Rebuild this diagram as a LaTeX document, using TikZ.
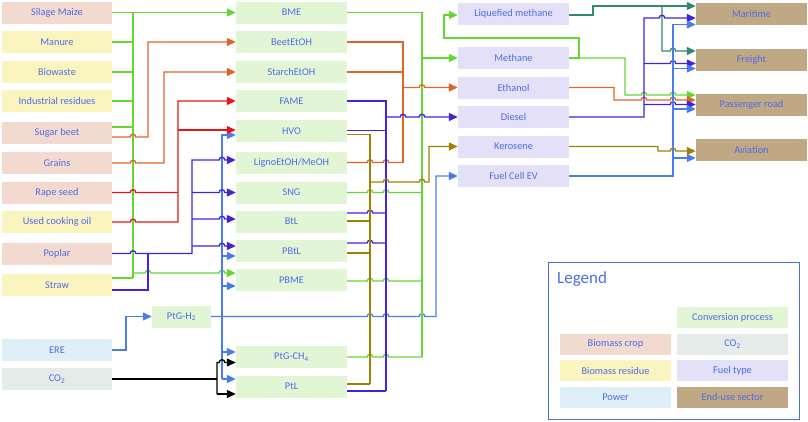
\documentclass[tikz,border=0pt]{standalone}
\usepackage{fontspec}
\setmainfont{Carlito}
\usetikzlibrary{arrows.meta,calc}
\definecolor{txt}{RGB}{78,108,230}
\definecolor{cropc}{RGB}{243,218,208}
\definecolor{resc}{RGB}{250,244,190}
\definecolor{powc}{RGB}{222,239,248}
\definecolor{co2c}{RGB}{228,235,233}
\definecolor{convc}{RGB}{226,246,214}
\definecolor{fuelc}{RGB}{227,224,247}
\definecolor{endc}{RGB}{192,168,132}
\definecolor{cg}{RGB}{102,214,51}
\definecolor{cor}{RGB}{224,100,40}
\definecolor{cr}{RGB}{235,20,20}
\definecolor{cp}{RGB}{68,34,221}
\definecolor{cb}{RGB}{74,124,240}
\definecolor{col}{RGB}{160,128,0}
\definecolor{ct}{RGB}{46,139,112}
\definecolor{legc}{RGB}{74,111,224}
\newcommand\hx[2]{-- (#1-2.8,#2) arc[start angle=180,end angle=0,radius=2.8pt]}
\begin{document}
\begin{tikzpicture}[x=1pt,y=-1pt,
  box/.style={minimum width=111pt,minimum height=22pt,inner sep=0pt,text=txt,font=\fontsize{10.3}{12}\selectfont},
  crop/.style={box,fill=cropc},
  res/.style={box,fill=resc},
  pow/.style={box,fill=powc},
  cotwo/.style={box,fill=co2c},
  conv/.style={box,fill=convc},
  fuel/.style={box,fill=fuelc},
  enduse/.style={box,fill=endc},
  ln/.style={line width=1.3pt},
  ar/.style={-{Triangle[length=9pt,width=8pt]}}]
\useasboundingbox (0,0) rectangle (808,421);
% left column
\node[crop,minimum width=110pt] (sm) at (57,12.5) {Silage Maize};
\node[res,minimum width=110pt] (man) at (57,42) {Manure};
\node[res,minimum width=110pt] (bio) at (57,72) {Biowaste};
\node[res,minimum width=110pt] (ind) at (57,101) {Industrial residues};
\node[crop,minimum width=110pt] (sb) at (57,133) {Sugar beet};
\node[crop,minimum width=110pt] (gr) at (57,163) {Grains};
\node[crop,minimum width=110pt] (rs) at (57,192.5) {Rape seed};
\node[res,minimum width=110pt] (uco) at (57,222) {Used cooking oil};
\node[crop,minimum width=110pt] (pop) at (57,253.5) {Poplar};
\node[res,minimum width=110pt] (str) at (57,285) {Straw};
\node[pow,minimum width=110pt] (ere) at (57,350) {ERE};
\node[cotwo,minimum width=110pt] (co2n) at (57,379) {CO\textsubscript{2}};
% middle column
\node[conv] (bme) at (291.5,12.5) {BME};
\node[conv] (beet) at (291.5,42) {BeetEtOH};
\node[conv] (starch) at (291.5,72) {StarchEtOH};
\node[conv] (fame) at (291.5,101) {FAME};
\node[conv] (hvo) at (291.5,131) {HVO};
\node[conv] (ligno) at (291.5,162.5) {LignoEtOH/MeOH};
\node[conv] (sng) at (291.5,192.5) {SNG};
\node[conv] (btl) at (291.5,221.5) {BtL};
\node[conv] (pbtl) at (291.5,251) {PBtL};
\node[conv] (pbme) at (291.5,280) {PBME};
\node[conv] (ptgch4) at (291.5,357) {PtG-CH\textsubscript{4}};
\node[conv] (ptl) at (291.5,386.5) {PtL};
\node[conv,minimum width=59pt] (ptgh2) at (181.5,316.5) {PtG-H\textsubscript{2}};
% fuel column
\node[fuel] (lm) at (513.5,13.5) {Liquefied methane};
\node[fuel] (meth) at (513.5,58) {Methane};
\node[fuel] (eth) at (513.5,87.5) {Ethanol};
\node[fuel] (dies) at (513.5,117) {Diesel};
\node[fuel] (ker) at (513.5,146.5) {Kerosene};
\node[fuel] (fcev) at (513.5,176) {Fuel Cell EV};
% end-use column
\node[enduse] (mar) at (751.5,14) {Maritime};
\node[enduse] (fre) at (751.5,60) {Freight};
\node[enduse] (pas) at (751.5,105) {Passenger road};
\node[enduse] (avi) at (751.5,150) {Aviation};
% legend
\draw[legc,line width=1pt] (548,262) rectangle (799,419);
\node[anchor=west,text=legc,font=\fontsize{17}{19}\selectfont,inner sep=0pt] (legt) at (557,279) {Legend};
\node[conv,minimum height=21pt] (l1) at (732.5,317.5) {Conversion process};
\node[crop,minimum height=21pt] (l2) at (615.5,344) {Biomass crop};
\node[cotwo,minimum height=21pt] (l3) at (732.5,344) {CO\textsubscript{2}};
\node[res,minimum height=21pt] (l4) at (615.5,370.5) {Biomass residue};
\node[fuel,minimum height=21pt] (l5) at (732.5,370.5) {Fuel type};
\node[pow,minimum height=21pt] (l6) at (615.5,397) {Power};
\node[enduse,minimum height=21pt] (l7) at (732.5,397) {End-use sector};
% ---- green left
\draw[ln,cg,ar] (sm.east) -- (bme.west);
\draw[ln,cg] (133,12.5) -- (133,278);
\draw[ln,cg] (man.east) -- (133,42);
\draw[ln,cg] (bio.east) -- (133,72);
\draw[ln,cg] (ind.east) -- (133,101);
\draw[ln,cg] (sb.east |- 0,127) -- (133,127);
\draw[ln,cg] (str.east |- 0,278) -- (133,278);
\draw[ln,cg,ar] (133,273) \hx{148}{273} \hx{222}{273} -- (pbme.west |- 0,273);
% ---- orange left
\draw[ln,cor,ar] (sb.east |- 0,137) \hx{133}{137} -- (148,137) -- (148,42) -- (beet.west);
\draw[ln,cor,ar] (gr.east) \hx{133}{163} -- (164,163) -- (164,72) -- (starch.west);
% ---- blue left
\draw[ln,cb,ar] (ere.east) -- (126,350) -- (126,316.5) -- (ptgh2.west);
\draw[ln,cb,ar] (ptgh2.east) \hx{370}{316.5} \hx{386}{316.5} \hx{422}{316.5} -- (436,316.5) -- (436,176) -- (fcev.west);
\draw[ln,cb,ar] (222,379) -- (222,135) -- (hvo.west |- 0,135);
\draw[ln,cb,ar] (222,256) -- (pbtl.west |- 0,256);
\draw[ln,cb,ar] (222,286) -- (pbme.west |- 0,286);
\draw[ln,cb,ar] (222,352) -- (ptgch4.west |- 0,352);
\draw[ln,cb,ar] (222,379) -- (ptl.west |- 0,379);
% ---- red
\draw[ln,cr] (rs.east) \hx{133}{192.5} -- (178,192.5);
\draw[ln,cr,ar] (uco.east) \hx{133}{222} -- (178,222) -- (178,101) -- (fame.west);
\draw[ln,cr,ar] (178,130) -- (hvo.west |- 0,130);
% ---- purple left
\draw[ln,cp,ar] (pop.east) \hx{133}{253.5} -- (192,253.5) -- (192,160) \hx{222}{160} -- (ligno.west |- 0,160);
\draw[ln,cp,ar] (192,192.5) \hx{222}{192.5} -- (sng.west);
\draw[ln,cp,ar] (192,219) \hx{222}{219} -- (btl.west |- 0,219);
\draw[ln,cp,ar] (192,246) \hx{222}{246} -- (pbtl.west |- 0,246);
\draw[ln,cp] (str.east |- 0,290) -- (148,290) -- (148,253.5);
% ---- black
\draw[ln,black] (co2n.east) -- (217,379);
\draw[ln,black,ar] (217,394) -- (217,362.5) \hx{222}{362.5} -- (ptgch4.west |- 0,362.5);
\draw[ln,black,ar] (217,394) -- (ptl.west |- 0,394);
% ---- middle green
\draw[ln,cg] (bme.east) -- (422,12.5) -- (422,357);
\draw[ln,cg] (sng.east) \hx{370}{192.5} \hx{386}{192.5} -- (422,192.5);
\draw[ln,cg] (pbme.east |- 0,281) \hx{370}{281} \hx{386}{281} -- (422,281);
\draw[ln,cg] (ptgch4.east) \hx{370}{357} \hx{386}{357} -- (422,357);
\draw[ln,cg,ar] (422,58) -- (meth.west);
% ---- middle orange
\draw[ln,cor] (beet.east) -- (403,42) -- (403,162.5);
\draw[ln,cor] (starch.east) -- (403,72);
\draw[ln,cor] (ligno.east) \hx{370}{162.5} \hx{386}{162.5} -- (403,162.5);
\draw[ln,cor,ar] (403,87.5) \hx{422}{87.5} -- (eth.west);
% ---- middle purple
\draw[ln,cp] (fame.east) -- (386,101) -- (386,391);
\draw[ln,cp] (hvo.east |- 0,130.5) -- (386,130.5);
\draw[ln,cp] (btl.east |- 0,213) \hx{370}{213} -- (386,213);
\draw[ln,cp] (pbtl.east |- 0,243) \hx{370}{243} -- (386,243);
\draw[ln,cp] (ptl.east |- 0,391) -- (386,391);
\draw[ln,cp,ar] (386,117) \hx{403}{117} \hx{422}{117} -- (dies.west);
% ---- middle olive
\draw[ln,col] (hvo.east |- 0,134.5) -- (370,134.5) -- (370,384);
\draw[ln,col] (btl.east |- 0,221) -- (370,221);
\draw[ln,col] (pbtl.east |- 0,253) -- (370,253);
\draw[ln,col] (ptl.east |- 0,384) -- (370,384);
\draw[ln,col,ar] (370,182) \hx{386}{182} \hx{422}{182} -- (429,182) -- (429,146.5) -- (ker.west);
% ---- fuel to end-use
\draw[ln,cg,ar] (meth.east) -- (579,58) -- (579,38) -- (444,38) -- (444,15) -- (lm.west |- 0,15);
\draw[ln,cg,ar] (579,58) -- (625,58) -- (625,95) \hx{644}{95} \hx{673}{95} -- (pas.west |- 0,95);
\draw[ln,cor,ar] (eth.east) -- (614,87.5) -- (614,100) \hx{644}{100} \hx{673}{100} -- (pas.west |- 0,100);
\draw[ln,ct,ar] (lm.east |- 0,15) -- (593,15) -- (593,6) -- (mar.west |- 0,6);
\draw[ln,ct,ar] (662,6) -- (662,51) \hx{673}{51} -- (fre.west |- 0,51);
\draw[ln,cp,ar] (dies.east) -- (644,117) -- (644,18) \hx{662}{18} -- (mar.west |- 0,18);
\draw[ln,cp,ar] (644,63.5) \hx{673}{63.5} -- (fre.west |- 0,63.5);
\draw[ln,cp,ar] (644,104.5) \hx{673}{104.5} -- (pas.west |- 0,104.5);
\draw[ln,cb,ar] (fcev.east) -- (673,176) -- (673,24.5) -- (mar.west |- 0,24.5);
\draw[ln,cb,ar] (673,68.5) -- (fre.west |- 0,68.5);
\draw[ln,cb,ar] (673,109) -- (pas.west |- 0,109);
\draw[ln,cb,ar] (673,158) -- (avi.west |- 0,158);
\draw[ln,col,ar] (ker.east) -- (658,146.5) -- (658,151) \hx{673}{151} -- (avi.west |- 0,151);
\end{tikzpicture}
\end{document}
